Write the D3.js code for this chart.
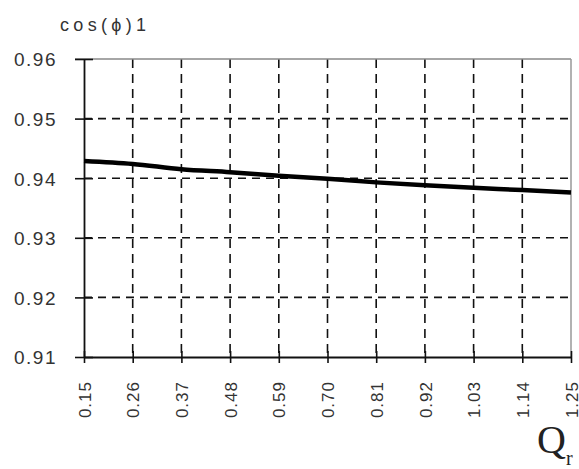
<!DOCTYPE html>
<html>
<head>
<meta charset="utf-8">
<script src="https://cdn.jsdelivr.net/npm/d3@7"></script>
<style>
  body { margin: 0; background: #fff; }
  svg { display: block; }
  text { font-family: "Liberation Sans", Arial, sans-serif; fill: #222; }
</style>
</head>
<body>
<div id="chart"></div>
<script>
// x tick labels (Qr) and cos(phi)1 values
const qValues = [0.15, 0.26, 0.37, 0.48, 0.59, 0.70, 0.81, 0.92, 1.03, 1.14, 1.25];
const cosPhi = [0.9429, 0.9424, 0.9415, 0.9410, 0.9404, 0.9399, 0.9393, 0.9388, 0.9384, 0.9380, 0.9376];
const yTicks = [0.91, 0.92, 0.93, 0.94, 0.95, 0.96];

const W = 579, H = 469;
const margin = { top: 59, right: 8, bottom: 112, left: 84 };
const width = W - margin.left - margin.right;
const height = H - margin.top - margin.bottom;

const svg = d3.select('#chart').append('svg')
    .attr('width', W)
    .attr('height', H);

const g = svg.append('g')
    .attr('transform', `translate(${margin.left},${margin.top})`);

const x = d3.scaleLinear().domain([0.15, 1.25]).range([0, width]);
const y = d3.scaleLinear().domain([0.91, 0.96]).range([height, 0]);

// dashed grid
g.append('g')
    .selectAll('line')
    .data(qValues.slice(1, -1))
    .enter().append('line')
    .attr('x1', d => x(d)).attr('x2', d => x(d))
    .attr('y1', 0).attr('y2', height)
    .attr('stroke', '#111')
    .attr('stroke-width', 1.6)
    .attr('stroke-dasharray', '9,6');

g.append('g')
    .selectAll('line')
    .data(yTicks.slice(1, -1))
    .enter().append('line')
    .attr('x1', 0).attr('x2', width)
    .attr('y1', d => y(d)).attr('y2', d => y(d))
    .attr('stroke', '#111')
    .attr('stroke-width', 1.6)
    .attr('stroke-dasharray', '8,6');

// top and right frame
g.append('line')
    .attr('x1', -9).attr('x2', width)
    .attr('y1', 0).attr('y2', 0)
    .attr('stroke', '#888').attr('stroke-width', 1.5);
g.append('line')
    .attr('x1', width).attr('x2', width)
    .attr('y1', 0).attr('y2', height)
    .attr('stroke', '#999').attr('stroke-width', 1.5);

// y axis with crossing ticks
const yAxis = g.append('g')
    .call(d3.axisLeft(y).tickValues(yTicks).tickFormat(d3.format('.2f'))
        .tickSizeInner(9).tickSizeOuter(0).tickPadding(18));
yAxis.select('.domain').attr('stroke', '#111').attr('stroke-width', 1.8);
yAxis.selectAll('.tick line').attr('x2', 9).attr('x1', -9).attr('stroke', '#111').attr('stroke-width', 1.6);
yAxis.selectAll('.tick text')
    .style('font-size', '19px')
    .style('letter-spacing', '1.5px')
    .attr('dy', '0.36em')
    .style('fill', '#333');

// x axis with crossing ticks, rotated labels
const xAxis = g.append('g')
    .attr('transform', `translate(0,${height})`)
    .call(d3.axisBottom(x).tickValues(qValues).tickFormat(d3.format('.2f'))
        .tickSizeInner(6).tickSizeOuter(0));
xAxis.select('.domain').attr('stroke', '#111').attr('stroke-width', 1.8);
xAxis.selectAll('.tick line').attr('y1', -6).attr('y2', 6).attr('stroke', '#111').attr('stroke-width', 1.6);
xAxis.selectAll('.tick text')
    .style('font-size', '17px')
    .style('letter-spacing', '1px')
    .style('fill', '#333')
    .attr('text-anchor', 'end')
    .attr('dy', '0.36em')
    .attr('transform', 'rotate(-90)')
    .attr('x', -24)
    .attr('y', 0);

// data line
g.append('path')
    .datum(cosPhi)
    .attr('fill', 'none')
    .attr('stroke', '#000')
    .attr('stroke-width', 4.5)
    .attr('stroke-linejoin', 'round')
    .attr('d', d3.line()
        .x((d, i) => x(qValues[i]))
        .y(d => y(d))
        .curve(d3.curveMonotoneX));

// titles
svg.append('text')
    .attr('x', 60)
    .attr('y', 31)
    .attr('textLength', 86)
    .attr('lengthAdjust', 'spacing')
    .style('font-size', '18px')
    .style('fill', '#333')
    .text('cos(ϕ)1');

const qLabel = svg.append('text')
    .attr('x', 537)
    .attr('y', 453)
    .style('font-family', '"Liberation Serif", "Times New Roman", serif')
    .style('font-size', '40px')
    .style('fill', '#222');
qLabel.append('tspan').text('Q');
qLabel.append('tspan').attr('dy', 12).style('font-size', '20px').text('r');
</script>
</body>
</html>
